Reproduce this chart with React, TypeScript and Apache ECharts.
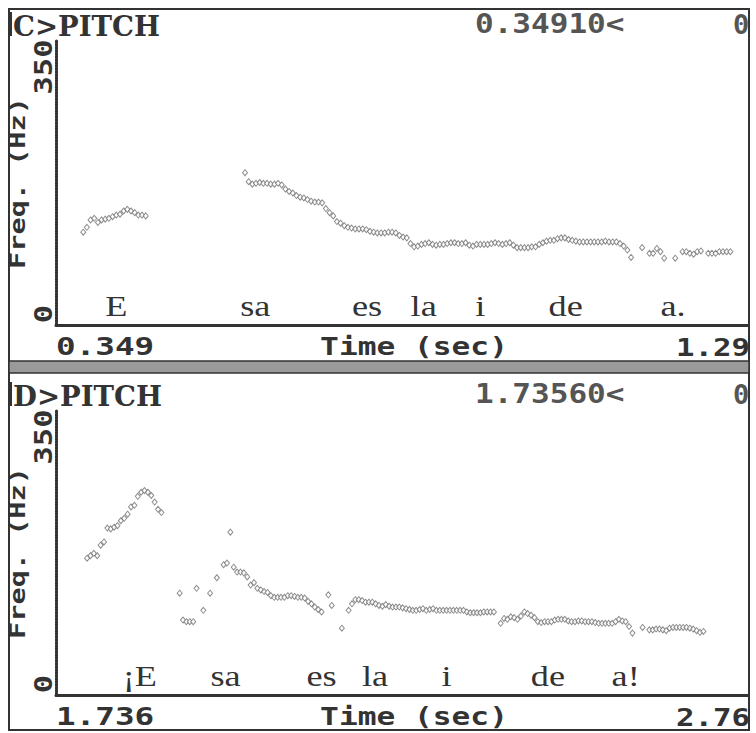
import React, { useEffect, useRef } from "react";
import * as echarts from "echarts";

// ---------- data ----------
const FRAME_STEP = 0.005; // s between pitch frames
const FREQ_RANGE = [0, 350];
const TOP_TIME_RANGE = [0.349, 1.29];
const BOTTOM_TIME_RANGE = [1.736, 2.76];

const TOP_TITLE = "C>PITCH";
const BOTTOM_TITLE = "D>PITCH";
const TOP_CURSOR = "0.34910<";
const BOTTOM_CURSOR = "1.73560<";
const TOP_TIME_LABELS = ["0.349", "1.29"];
const BOTTOM_TIME_LABELS = ["1.736", "2.76"];
const FREQ_TICK_LABELS = ["350", "0"];
const X_NAME = "Time (sec)";
const Y_NAME = "Freq. (Hz)";

// top panel: "Esa es la ide a."
const TOP_SEG1_START = 0.386;
const TOP_SEG1_HZ = [114, 120, 129, 131, 126, 129, 130, 131, 133, 135, 136, 140, 142, 140, 138, 135, 135, 134];
const TOP_SEG2_START = 0.606;
const TOP_SEG2_HZ = [
  187, 176, 173, 174, 175, 174, 174, 173, 173, 174,
  172, 167, 164, 162, 159, 157, 156, 154, 152, 151,
  151, 150, 143, 138, 134, 127, 125, 122, 120, 119,
  118, 118, 118, 117, 115, 114, 113, 113, 113, 114,
  114, 113, 110, 108, 107, 100, 96, 97, 99, 100,
  101, 99, 98, 99, 99, 100, 101, 101, 100, 100,
  101, 98, 97, 99, 99, 99, 99, 100, 101, 100,
  99, 100, 101, 98, 95, 95, 95, 95, 96, 96,
  99, 101, 103, 104, 104, 106, 107, 107, 105, 104,
  103, 102, 102, 102, 102, 102, 102, 102, 103, 102,
  102, 102, 100, 97, 92, 83, null, null, 95, null,
  88, 88, 94, 90, 82, null, null, 82, null, 90,
  90, 88, 87, 90, 91, null, 88, 88, 88, 90,
  90, 90, 90,
];
const TOP_WORDS = ["E", "sa", "es", "la", "i", "de", "a."];
const TOP_WORD_TIMES = [0.431, 0.62, 0.772, 0.849, 0.926, 1.042, 1.188];

// bottom panel: "¡Esa es la ide a!"
const BOTTOM_SEG1_START = 1.782;
const BOTTOM_SEG1_HZ = [
  168, 171, 174, 171, 184, 188, 205, 204, 206, 208,
  214, 217, 222, 231, 233, 244, 249, 251, 249, 245,
  237, 228, 224,
];
const BOTTOM_SEG2_START = 1.919;
const BOTTOM_SEG2_HZ = [
  125, 92, 90, 90, 90, 131, null, 104, null, 125,
  null, 144, null, 160, 162, 200, 157, 151, 151, 150,
  145, 135, 138, 131, 129, 127, 126, 122, 120, 120,
  120, 120, 122, 122, 121, 120, 120, 119, 115, 112,
  108, 105, 102, null, 123, 110, null, null, 82, null,
  104, 112, 117, 117, 116, 114, 114, 114, 112, 110,
  109, 111, 109, 108, 108, 108, 107, 106, 105, 104,
  104, 105, 106, 104, 105, 106, 104, 104, 104, 104,
  104, 104, 104, 104, 104, 102, 101, 101, 101, 101,
  102, 102, 102, 102, null, 88, 94, 93, 96, 95,
  93, 97, 102, 100, 98, 95, 90, 89, 90, 90,
  90, 92, 93, 93, 93, 91, 90, 90, 91, 91,
  90, 90, 90, 89, 88, 88, 88, 88, 88, 90,
  93, 91, 90, 84, 76, null, null, 83, null, 80,
  80, 81, 81, 80, 79, 82, 83, 83, 83, 83,
  83, 82, 81, 79, 77, 78,
];
const BOTTOM_WORDS = ["¡E", "sa", "es", "la", "i", "de", "a!"];
const BOTTOM_WORD_TIMES = [1.86, 1.987, 2.129, 2.208, 2.314, 2.464, 2.579];
const WORD_BASE_HZ = 23;

// ---------- helpers ----------
function frames(start: number, values: (number | null)[]) {
  const out: number[][] = [];
  values.forEach((v, i) => {
    if (v !== null) out.push([+(start + i * FRAME_STEP).toFixed(4), v]);
  });
  return out;
}

const INK = "#333";
const MONO = "DejaVu Sans Mono";

export default function App() {
  const ref = useRef<HTMLDivElement>(null);

  useEffect(() => {
    if (!ref.current) return;
    const chart = echarts.init(ref.current, undefined, { renderer: "svg" });

    const grids = [
      { left: 56, top: 40, width: 692, height: 285 },
      { left: 56, top: 410, width: 692, height: 285 },
    ];
    const xAxisBase = {
      type: "value",
      axisLine: { show: true, onZero: false, lineStyle: { color: INK, width: 3 } },
      axisTick: { show: false },
      axisLabel: { show: false },
      splitLine: { show: false },
    };
    const yAxisBase = {
      type: "value",
      min: FREQ_RANGE[0],
      max: FREQ_RANGE[1],
      axisLine: { show: true, lineStyle: { color: INK, width: 3, type: [2, 1] } },
      axisTick: { show: false },
      axisLabel: { show: false },
      splitLine: { show: false },
    };
    const pointStyle = {
      type: "scatter",
      symbol: "diamond",
      symbolSize: [5, 6],
      itemStyle: { color: "#fff", borderColor: "#707070", borderWidth: 1 },
    };

    chart.setOption({
      animation: false,
      backgroundColor: "#fff",
      grid: grids,
      xAxis: [
        { ...xAxisBase, gridIndex: 0, min: TOP_TIME_RANGE[0], max: TOP_TIME_RANGE[1] },
        { ...xAxisBase, gridIndex: 1, min: BOTTOM_TIME_RANGE[0], max: BOTTOM_TIME_RANGE[1] },
      ],
      yAxis: [
        { ...yAxisBase, gridIndex: 0 },
        { ...yAxisBase, gridIndex: 1 },
      ],
      series: [
        { ...pointStyle, name: "C1", xAxisIndex: 0, yAxisIndex: 0, data: frames(TOP_SEG1_START, TOP_SEG1_HZ) },
        { ...pointStyle, name: "C2", xAxisIndex: 0, yAxisIndex: 0, data: frames(TOP_SEG2_START, TOP_SEG2_HZ) },
        { ...pointStyle, name: "D1", xAxisIndex: 1, yAxisIndex: 1, data: frames(BOTTOM_SEG1_START, BOTTOM_SEG1_HZ) },
        { ...pointStyle, name: "D2", xAxisIndex: 1, yAxisIndex: 1, data: frames(BOTTOM_SEG2_START, BOTTOM_SEG2_HZ) },
      ],
    });

    const txt = (
      text: string,
      x: number,
      y: number,
      o: { size?: number; family?: string; weight?: string; align?: string; fill?: string; scaleX?: number; rotation?: number } = {}
    ) => ({
      type: "text",
      x,
      y,
      rotation: o.rotation || 0,
      scaleX: o.scaleX || 1,
      style: {
        text,
        fontSize: o.size || 24,
        fontFamily: o.family || MONO,
        fontWeight: o.weight || "bold",
        fill: o.fill || INK,
        align: o.align || "left",
        verticalAlign: "middle",
      },
    });

    const graphic: any[] = [];
    const panels = [
      { dy: 0, title: TOP_TITLE, cursor: TOP_CURSOR, labels: TOP_TIME_LABELS, words: TOP_WORDS, times: TOP_WORD_TIMES, grid: 0 },
      { dy: 370, title: BOTTOM_TITLE, cursor: BOTTOM_CURSOR, labels: BOTTOM_TIME_LABELS, words: BOTTOM_WORDS, times: BOTTOM_WORD_TIMES, grid: 1 },
    ];
    // frame pieces drawn first, texts on top
    graphic.push({ type: "rect", shape: { x: 0, y: 0, width: 8, height: 733 }, style: { fill: "#fff" } });
    graphic.push({
      type: "rect",
      shape: { x: 9, y: 9, width: 740, height: 721 },
      style: { fill: "none", stroke: INK, lineWidth: 2 },
    });
    graphic.push({
      type: "rect",
      shape: { x: 9, y: 361, width: 740, height: 12 },
      style: { fill: "#9a9a9a", stroke: INK, lineWidth: 1.5 },
    });
    panels.forEach((p) => {
      const dy = p.dy;
      graphic.push(txt(p.title, 13, 26 + dy, { size: 27, family: "DejaVu Serif", scaleX: 1.02 }));
      graphic.push({
        type: "polyline",
        shape: { points: [[8, 13 + dy], [11, 13 + dy], [11, 35 + dy], [8, 35 + dy]] },
        style: { stroke: INK, lineWidth: 2, fill: "none" },
      });
      graphic.push(txt(p.cursor, 475, 24 + dy, { size: 27, scaleX: 1.15, fill: "#555" }));
      graphic.push(txt("0", 733, 24 + dy, { size: 27, fill: "#555" }));
      graphic.push(txt(Y_NAME, 18, 183 + dy, { size: 21, align: "center", scaleX: 1.36, rotation: Math.PI / 2 }));
      graphic.push(txt(FREQ_TICK_LABELS[0], 44, 67 + dy, { size: 24, align: "center", scaleX: 1.27, rotation: Math.PI / 2 }));
      graphic.push(txt(FREQ_TICK_LABELS[1], 44, 314 + dy, { size: 24, align: "center", scaleX: 1.27, rotation: Math.PI / 2 }));
      graphic.push(txt(p.labels[0], 56, 347 + dy, { size: 24, scaleX: 1.36 }));
      graphic.push(txt(X_NAME, 414, 347 + dy, { size: 24, align: "center", scaleX: 1.3 }));
      graphic.push(txt(p.labels[1], 750, 347 + dy, { size: 24, align: "right", scaleX: 1.28 }));
      p.words.forEach((w, i) => {
        const pt = chart.convertToPixel({ gridIndex: p.grid } as any, [p.times[i], WORD_BASE_HZ]) as number[];
        graphic.push(
          txt(w, pt[0], pt[1], { size: 29, family: "Liberation Serif", weight: "normal", align: "center", scaleX: 1.25 })
        );
      });
    });

    chart.setOption({ graphic });

    return () => chart.dispose();
  }, []);

  return <div ref={ref} style={{ position: "absolute", left: 0, top: 0, width: 756, height: 733 }} />;
}
